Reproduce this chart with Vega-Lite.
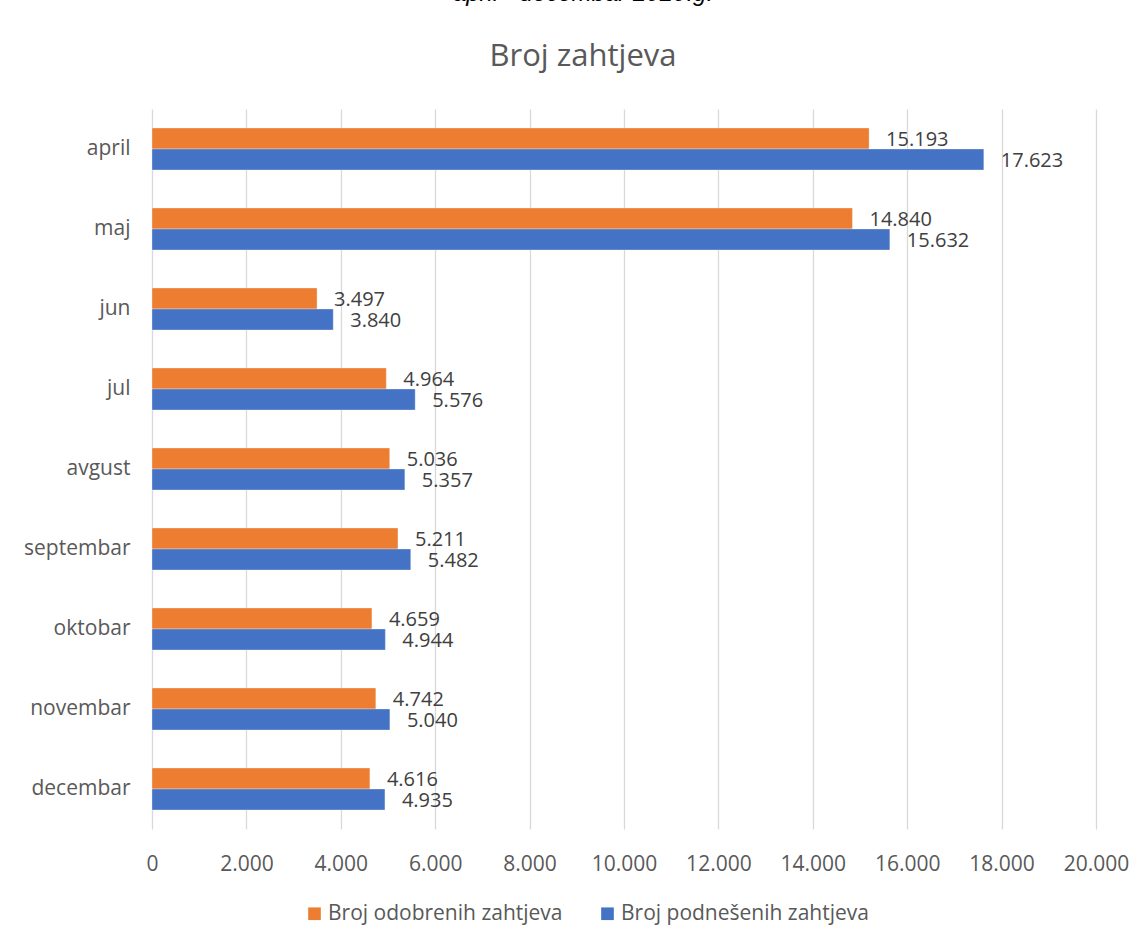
{
  "$schema": "https://vega.github.io/schema/vega-lite/v6.json",
  "width": 944,
  "height": 720,
  "autosize": {"type": "none"},
  "padding": {"left": 152, "top": 109, "right": 50, "bottom": 118},
  "background": "white",
  "config": {
    "locale": {"number": {"decimal": ",", "thousands": ".", "grouping": [3], "currency": ["", ""]}},
    "font": "Open Sans",
    "view": {"stroke": null}
  },
  "title": {
    "text": "april - decembar 2020.g.",
    "subtitle": "Broj zahtjeva",
    "font": "Liberation Sans",
    "fontStyle": "italic",
    "fontWeight": "normal",
    "fontSize": 24,
    "color": "#000000",
    "subtitleFont": "Open Sans",
    "subtitleFontSize": 31,
    "subtitleColor": "#595959",
    "subtitlePadding": 36,
    "anchor": "middle",
    "dx": -41,
    "offset": 37
  },
  "data": {
    "values": [
      {"mjesec": "april", "serija": "Broj odobrenih zahtjeva", "vrijednost": 15193},
      {"mjesec": "april", "serija": "Broj podnešenih zahtjeva", "vrijednost": 17623},
      {"mjesec": "maj", "serija": "Broj odobrenih zahtjeva", "vrijednost": 14840},
      {"mjesec": "maj", "serija": "Broj podnešenih zahtjeva", "vrijednost": 15632},
      {"mjesec": "jun", "serija": "Broj odobrenih zahtjeva", "vrijednost": 3497},
      {"mjesec": "jun", "serija": "Broj podnešenih zahtjeva", "vrijednost": 3840},
      {"mjesec": "jul", "serija": "Broj odobrenih zahtjeva", "vrijednost": 4964},
      {"mjesec": "jul", "serija": "Broj podnešenih zahtjeva", "vrijednost": 5576},
      {"mjesec": "avgust", "serija": "Broj odobrenih zahtjeva", "vrijednost": 5036},
      {"mjesec": "avgust", "serija": "Broj podnešenih zahtjeva", "vrijednost": 5357},
      {"mjesec": "septembar", "serija": "Broj odobrenih zahtjeva", "vrijednost": 5211},
      {"mjesec": "septembar", "serija": "Broj podnešenih zahtjeva", "vrijednost": 5482},
      {"mjesec": "oktobar", "serija": "Broj odobrenih zahtjeva", "vrijednost": 4659},
      {"mjesec": "oktobar", "serija": "Broj podnešenih zahtjeva", "vrijednost": 4944},
      {"mjesec": "novembar", "serija": "Broj odobrenih zahtjeva", "vrijednost": 4742},
      {"mjesec": "novembar", "serija": "Broj podnešenih zahtjeva", "vrijednost": 5040},
      {"mjesec": "decembar", "serija": "Broj odobrenih zahtjeva", "vrijednost": 4616},
      {"mjesec": "decembar", "serija": "Broj podnešenih zahtjeva", "vrijednost": 4935}
    ]
  },
  "encoding": {
    "y": {
      "field": "mjesec",
      "type": "nominal",
      "sort": ["april", "maj", "jun", "jul", "avgust", "septembar", "oktobar", "novembar", "decembar"],
      "scale": {"paddingInner": 0.475, "paddingOuter": 0.2375},
      "axis": {
        "title": null,
        "domain": false,
        "ticks": false,
        "labelPadding": 22,
        "labelFontSize": 21,
        "labelColor": "#595959",
        "grid": false
      }
    },
    "yOffset": {
      "field": "serija",
      "type": "nominal",
      "sort": ["Broj odobrenih zahtjeva", "Broj podnešenih zahtjeva"]
    },
    "x": {
      "field": "vrijednost",
      "type": "quantitative",
      "scale": {"domain": [0, 20000], "nice": false},
      "axis": {
        "title": null,
        "values": [0, 2000, 4000, 6000, 8000, 10000, 12000, 14000, 16000, 18000, 20000],
        "format": ",d",
        "domain": false,
        "ticks": false,
        "labelFlush": false,
        "labelOverlap": false,
        "labelPadding": 24,
        "labelFontSize": 21,
        "labelColor": "#595959",
        "gridColor": "#d9d9d9",
        "gridWidth": 1.3
      }
    }
  },
  "layer": [
    {
      "mark": {"type": "bar", "stroke": "#ffffff", "strokeOpacity": 0.4, "strokeWidth": 0.8},
      "encoding": {
        "color": {
          "field": "serija",
          "type": "nominal",
          "sort": ["Broj odobrenih zahtjeva", "Broj podnešenih zahtjeva"],
          "scale": {"range": ["#ED7D31", "#4472C4"]},
          "legend": {
            "title": null,
            "orient": "none",
            "direction": "horizontal",
            "legendX": 152,
            "legendY": 794,
            "symbolType": "square",
            "symbolSize": 160,
            "symbolStrokeWidth": 0,
            "labelFontSize": 21,
            "labelLimit": 0,
            "labelColor": "#595959",
            "columnPadding": 34,
            "labelOffset": 3
          }
        }
      }
    },
    {
      "mark": {"type": "text", "align": "left", "baseline": "middle", "dx": 17, "dy": 1, "fontSize": 20, "color": "#404040"},
      "encoding": {
        "text": {"field": "vrijednost", "type": "quantitative", "format": ",d"}
      }
    }
  ]
}
